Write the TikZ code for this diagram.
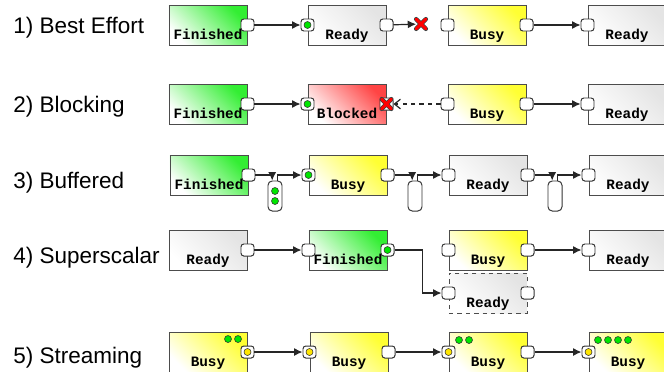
\documentclass[tikz,border=0pt]{standalone}
\usepackage{fontspec}
\setmainfont{Liberation Sans}
\setmonofont{Liberation Mono}
\usetikzlibrary{arrows.meta,shapes.misc}

\definecolor{r51g238b51}{RGB}{51,238,51}
\definecolor{r255g255b51}{RGB}{255,255,51}
\definecolor{r255g68b68}{RGB}{255,68,68}
\definecolor{r228g228b228}{RGB}{228,228,228}
\definecolor{r0g230b0}{RGB}{0,230,0}
\definecolor{r255g230b0}{RGB}{255,230,0}

\tikzset{
  stage/.style={draw=black!70, line width=0.7pt, minimum width=1.95cm, inner sep=0pt,
    text height=0.85cm, text depth=0.15cm, font=\ttfamily\bfseries\fontsize{10.2}{12}\selectfont,
    bottom color=white, top color=#1, shading angle=-45},
  port/.style={draw=black!80, fill=white, line width=0.7pt, rounded corners=2pt,
    minimum width=0.325cm, minimum height=0.3cm, inner sep=0pt},
  buffer/.style={draw=black!80, fill=white, line width=0.7pt, rounded corners=3pt,
    minimum width=0.35cm, minimum height=0.75cm, inner sep=0pt},
  led/.style={circle, draw=black!80, fill=#1, line width=0.4pt, minimum size=0.175cm, inner sep=0pt},
  failmark/.style={cross out, draw=red, line width=2.1pt, line cap=round, minimum size=0.17cm, inner sep=0pt,
    preaction={draw=black!75, line width=3.1pt, line cap=round}},
  flow/.style={draw=black!85, line width=0.85pt, -{Latex[length=2.1mm,width=2mm]}},
  backflow/.style={draw=black!85, line width=0.85pt, dashed, -{Straight Barb[length=1.5mm,width=2.4mm]}},
  mode/.style={anchor=base west, inner sep=0pt, font=\fontsize{16}{19}\selectfont}
}

\begin{document}
\begin{tikzpicture}[x=0.025cm, y=-0.025cm]
\useasboundingbox (0,0) rectangle (664,371);

% Drawing row labels
\node[mode] (m1) at (13,33) {1) Best Effort};
\node[mode] (m2) at (13,112) {2) Blocking};
\node[mode] (m3) at (13,188) {3) Buffered};
\node[mode] (m4) at (13,263) {4) Superscalar};
\node[mode] (m5) at (13,363) {5) Streaming};

% Drawing row 1
\node[stage=r51g238b51] (a1) at (208,25) {Finished};
\node[stage=r228g228b228] (b1) at (347,25) {Ready};
\node[stage=r255g255b51] (c1) at (487,25) {Busy};
\node[stage=r228g228b228] (d1) at (627,25) {Ready};
\node[port] (a1out) at (a1.east) {};
\node[port] (b1in) at (b1.west) {};
\node[led=r0g230b0] (b1tok) at (b1in) {};
\node[port] (b1out) at (b1.east) {};
\node[port] (c1in) at (c1.west) {};
\node[port] (c1out) at (c1.east) {};
\node[port] (d1in) at (d1.west) {};
\node[failmark] (x1) at (421,24) {};
\draw[flow] (a1out) -- (b1in);
\draw[flow] (b1out) -- (x1);
\draw[flow] (c1out) -- (d1in);

% Drawing row 2
\node[stage=r51g238b51] (a2) at (208,104) {Finished};
\node[stage=r255g68b68] (b2) at (347,104) {Blocked};
\node[stage=r255g255b51] (c2) at (487,104) {Busy};
\node[stage=r228g228b228] (d2) at (627,104) {Ready};
\node[port] (a2out) at (a2.east) {};
\node[port] (b2in) at (b2.west) {};
\node[led=r0g230b0] (b2tok) at (b2in) {};
\node[port] (b2out) at (b2.east) {};
\node[failmark] (x2) at (b2out) {};
\node[port] (c2in) at (c2.west) {};
\node[port] (c2out) at (c2.east) {};
\node[port] (d2in) at (d2.west) {};
\draw[flow] (a2out) -- (b2in);
\draw[backflow] (c2in) -- (b2out);
\draw[flow] (c2out) -- (d2in);

% Drawing row 3
\node[stage=r51g238b51] (a3) at (209,175) {Finished};
\node[stage=r255g255b51] (b3) at (348,175) {Busy};
\node[stage=r228g228b228] (c3) at (488,175) {Ready};
\node[stage=r228g228b228] (d3) at (628,175) {Ready};
\node[buffer] (q1) at (275,196) {};
\node[buffer] (q2) at (415,196) {};
\node[buffer] (q3) at (555,196) {};
\node[led=r0g230b0] (q1tok1) at (275,191) {};
\node[led=r0g230b0] (q1tok2) at (275,201) {};
\node[port] (a3out) at (a3.east) {};
\node[port] (b3in) at (b3.west) {};
\node[led=r0g230b0] (b3tok) at (b3in) {};
\node[port] (b3out) at (b3.east) {};
\node[port] (c3in) at (c3.west) {};
\node[port] (c3out) at (c3.east) {};
\node[port] (d3in) at (d3.west) {};
\draw[flow] (a3out) -| ([xshift=-0.07cm]q1.north);
\draw[flow] ([xshift=0.07cm]q1.north) |- (b3in);
\draw[flow] (b3out) -| ([xshift=-0.07cm]q2.north);
\draw[flow] ([xshift=0.07cm]q2.north) |- (c3in);
\draw[flow] (c3out) -| ([xshift=-0.07cm]q3.north);
\draw[flow] ([xshift=0.07cm]q3.north) |- (d3in);

% Drawing row 4
\node[stage=r228g228b228] (a4) at (208,250) {Ready};
\node[stage=r51g238b51] (b4) at (348,250) {Finished};
\node[stage=r255g255b51] (c4) at (488,250) {Busy};
\node[stage=r228g228b228, dashed] (d4) at (488,293) {Ready};
\node[stage=r228g228b228] (e4) at (628,250) {Ready};
\node[port] (a4out) at (a4.east) {};
\node[port] (b4in) at (b4.west) {};
\node[port] (b4out) at (b4.east) {};
\node[led=r0g230b0] (b4tok) at (b4out) {};
\node[port] (c4in) at (c4.west) {};
\node[port] (c4out) at (c4.east) {};
\node[port] (d4in) at (d4.west) {};
\node[port] (d4out) at (d4.east) {};
\node[port] (e4in) at (e4.west) {};
\draw[flow] (a4out) -- (b4in);
\draw[flow] (b4out) -- ++(35,0) |- (d4in);
\draw[flow] (c4out) -- (e4in);

% Drawing row 5
\node[stage=r255g255b51] (a5) at (208,352) {Busy};
\node[stage=r255g255b51] (b5) at (349,352) {Busy};
\node[stage=r255g255b51] (c5) at (488,352) {Busy};
\node[stage=r255g255b51] (d5) at (628,352) {Busy};
\foreach \x [count=\i] in {228,238} \node[led=r0g230b0] (a5tok\i) at (\x,339) {};
\foreach \x [count=\i] in {459,469} \node[led=r0g230b0] (c5tok\i) at (\x,340) {};
\foreach \x [count=\i] in {598,608,618,628} \node[led=r0g230b0] (d5tok\i) at (\x,340) {};
\node[port] (a5out) at (a5.east) {};
\node[led=r255g230b0] (a5dot) at (a5out) {};
\node[port] (b5in) at (b5.west) {};
\node[led=r255g230b0] (b5dot) at (b5in) {};
\node[port] (b5out) at (b5.east) {};
\node[port] (c5in) at (c5.west) {};
\node[led=r255g230b0] (c5dot) at (c5in) {};
\node[port] (c5out) at (c5.east) {};
\node[port] (d5in) at (d5.west) {};
\node[led=r255g230b0] (d5dot) at (d5in) {};
\draw[flow] (a5out) -- (b5in);
\draw[flow] (b5out) -- (c5in);
\draw[flow] (c5out) -- (d5in);
\end{tikzpicture}
\end{document}
